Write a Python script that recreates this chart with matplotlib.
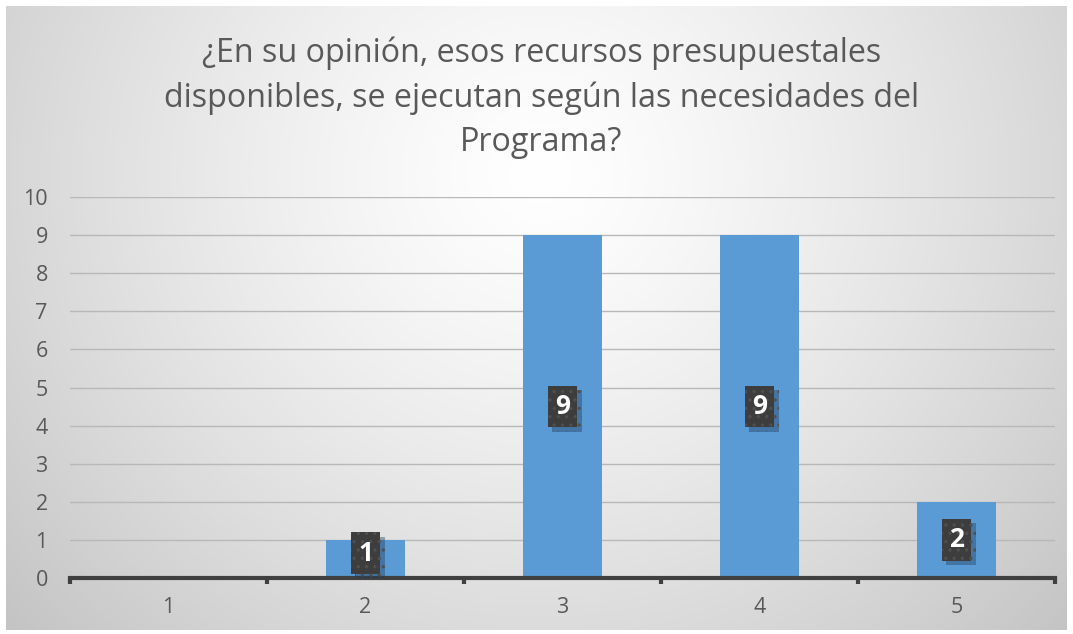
import numpy as np
import matplotlib
matplotlib.use("Agg")
import matplotlib.pyplot as plt
import matplotlib.patheffects as pe

# survey answers (scale 1-5) and how many people chose each
categories = ["1", "2", "3", "4", "5"]
counts = [0, 1, 9, 9, 2]
y_ticks = list(range(0, 11))
title = ("¿En su opinión, esos recursos presupuestales\n"
         "disponibles, se ejecutan según las necesidades del\n"
         "Programa?")

W, H, DPI = 1073, 634, 100
plt.rcParams["font.family"] = ["Open Sans", "DejaVu Sans"]

fig = plt.figure(figsize=(W / DPI, H / DPI), dpi=DPI)
fig.patch.set_facecolor("white")

# radial grey background of the chart area
bg = fig.add_axes([0, 0, 1, 1])
bg.set_xlim(0, W)
bg.set_ylim(H, 0)
bg.axis("off")
yy, xx = np.mgrid[0:H, 0:W]
r = np.hypot((xx - 540) / 1.0, (yy - 170) / 0.95)
shade = 1.0 - 0.23 * np.clip(r / 720, 0, 1) ** 1.3
img = np.dstack([shade] * 3)
bg.imshow(img, extent=(6, W - 6, H - 4, 6), origin="upper", interpolation="bilinear")

ax = fig.add_axes([70 / W, 1 - 578 / H, (1055 - 70) / W, (578 - 197) / H])
ax.patch.set_alpha(0)
x = np.arange(1, len(categories) + 1)
ax.bar(x, counts, width=0.4, color="#5B9BD5", zorder=3)

ax.set_xlim(0.5, len(categories) + 0.5)
ax.set_ylim(0, 10)
ax.set_yticks(y_ticks)
ax.set_yticklabels([str(t) for t in y_ticks])
ax.set_xticks(x)
ax.set_xticklabels(categories)
ax.tick_params(axis="y", length=0, pad=16, labelsize=15.5, labelcolor="#595959")
ax.tick_params(axis="x", length=0, pad=14, labelsize=15.5, labelcolor="#595959")
for t in y_ticks[1:]:
    ax.axhline(t, color="#b8b8b8", lw=1.0, zorder=1)

for s in ["top", "right", "left"]:
    ax.spines[s].set_visible(False)
ax.spines["bottom"].set_color("#404040")
ax.spines["bottom"].set_linewidth(3)
ax.spines["bottom"].set_zorder(4)
# tick marks on the category boundaries
for b in np.arange(0.5, len(categories) + 1, 1.0):
    ax.plot([b, b], [0, -0.17], color="#404040", lw=3, clip_on=False,
            solid_capstyle="butt", zorder=4)

plt.rcParams["hatch.linewidth"] = 1.2
for xi, v in zip(x, counts):
    if v == 0:
        continue
    ypos = max(v / 2, 0.65)
    lab = ax.text(xi, ypos, str(v), ha="center", va="center", fontsize=19,
                  fontweight="bold", color="white", zorder=6,
                  bbox=dict(boxstyle="square,pad=0.28", facecolor="#3d3d3d",
                            edgecolor="#4f4f4f", linewidth=0, hatch=".."))
    lab.get_bbox_patch().set_path_effects(
        [pe.SimplePatchShadow(offset=(3, -3), shadow_rgbFace="#1f3a5a", alpha=0.4),
         pe.Normal()])

fig.text(0.5 + 5 / W, 1 - 98 / H, title, ha="center", va="center",
         fontsize=23.2, color="#595959", linespacing=1.45)

fig.savefig("out.png", dpi=DPI)
